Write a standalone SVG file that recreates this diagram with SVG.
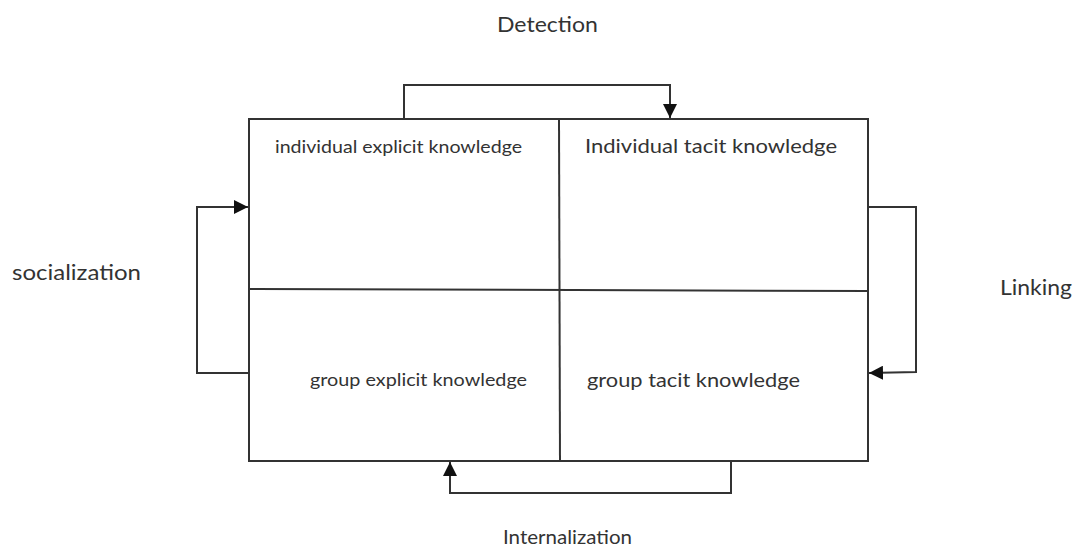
<svg xmlns="http://www.w3.org/2000/svg" width="1077" height="549" viewBox="0 0 1077 549">
<style>
.ln{fill:none;stroke:#333;stroke-width:2}
.t{font-family:Lato,"Open Sans","Liberation Sans",sans-serif;fill:#333}
</style>
<defs>
<marker id="ah" viewBox="0 0 10 10" refX="10" refY="5" markerWidth="7" markerHeight="7" orient="auto" markerUnits="strokeWidth">
<path d="M0,0 L10,5 L0,10 z" fill="#111"/>
</marker>
</defs>
<rect width="1077" height="549" fill="#fff"/>
<g id="grid">
<rect class="ln" x="249" y="119" width="619" height="342"/>
<line class="ln" x1="559" y1="119" x2="560" y2="461"/>
<line class="ln" x1="249" y1="289" x2="868" y2="291"/>
</g>
<g id="cell-ie"><text class="t" x="275" y="153" font-size="17" textLength="247" lengthAdjust="spacingAndGlyphs">individual explicit knowledge</text></g>
<g id="cell-it"><text class="t" x="585" y="153" font-size="19" textLength="252" lengthAdjust="spacingAndGlyphs">Individual tacit knowledge</text></g>
<g id="cell-ge"><text class="t" x="310" y="386" font-size="17" textLength="217" lengthAdjust="spacingAndGlyphs">group explicit knowledge</text></g>
<g id="cell-gt"><text class="t" x="587" y="387" font-size="19" textLength="213" lengthAdjust="spacingAndGlyphs">group tacit knowledge</text></g>
<g id="lbl-detection"><text class="t" x="497" y="32" font-size="21" textLength="101" lengthAdjust="spacingAndGlyphs">Detection</text></g>
<g id="lbl-socialization"><text class="t" x="12" y="280" font-size="21" textLength="129" lengthAdjust="spacingAndGlyphs">socialization</text></g>
<g id="lbl-linking"><text class="t" x="1000" y="295" font-size="21" textLength="72" lengthAdjust="spacingAndGlyphs">Linking</text></g>
<g id="lbl-internalization"><text class="t" x="503" y="544" font-size="20" textLength="129" lengthAdjust="spacingAndGlyphs">Internalization</text></g>
<g id="connectors">
<polyline class="ln" points="404,119 404,85 670,85 670,118" marker-end="url(#ah)"/>
<polyline class="ln" points="249,373 197,373 197,207 248,207" marker-end="url(#ah)"/>
<polyline class="ln" points="868,207 916,207 916,372 869,373" marker-end="url(#ah)"/>
<polyline class="ln" points="731,461 731,493 450,493 450,462" marker-end="url(#ah)"/>
</g>
</svg>
